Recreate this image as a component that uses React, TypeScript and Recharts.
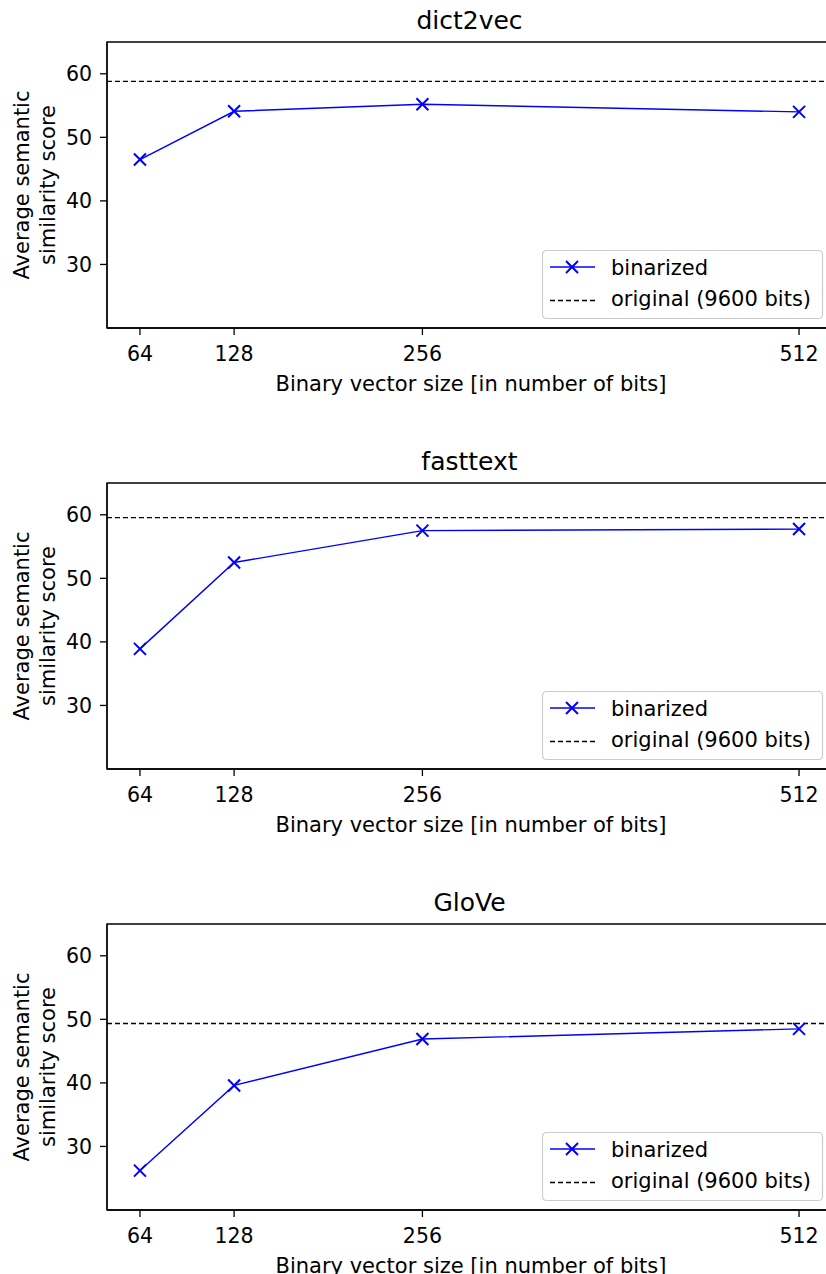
import React from 'react';
import { LineChart, Line, XAxis, YAxis, ReferenceLine, ReferenceArea, Legend } from 'recharts';

// ---- data ----
const bits = [64, 128, 256, 512];
const dict2vecScores = [46.5, 54.1, 55.2, 54.0];
const fasttextScores = [38.9, 52.5, 57.5, 57.75];
const gloveScores = [26.2, 39.6, 46.9, 48.5];
const originalScores = [58.8, 59.55, 49.35];
const panelTitles = ['dict2vec', 'fasttext', 'GloVe'];
const yTicks = [30, 40, 50, 60];
const xDomain = [41.6, 534.4];
const yDomain = [20, 65];
const seriesName = 'binarized';
const originalName = 'original (9600 bits)';
const xLabel = 'Binary vector size [in number of bits]';
const yLabelLines = ['Average semantic', 'similarity score'];

const FONT = '"DejaVu Sans", sans-serif';
const BLUE = '#0000ff';

const renderX = (props: any) => {
  const { cx, cy, index } = props;
  if (cx == null || cy == null) return <g key={`x-${index}`} />;
  const s = 6;
  return (
    <path
      key={`x-${index}`}
      d={`M${cx - s},${cy - s}L${cx + s},${cy + s}M${cx - s},${cy + s}L${cx + s},${cy - s}`}
      stroke={BLUE}
      strokeWidth={2}
      fill="none"
    />
  );
};

const LegendBox = (props: any) => {
  const payload = props.payload || [];
  const first = payload.length ? String(payload[0].value) : seriesName;
  return (
    <svg width={282} height={70} style={{ display: 'block', fontFamily: FONT }}>
      <rect x={0.5} y={0.5} width={280} height={68} rx={4} ry={4} fill="#fff" fillOpacity={0.8} stroke="#cccccc" strokeWidth={1.2} />
      <line x1={8} y1={17} x2={53} y2={17} stroke={BLUE} strokeWidth={1.4} />
      <path d="M24,11L36,23M24,23L36,11" stroke={BLUE} strokeWidth={2} fill="none" />
      <text x={69} y={24.5} fontSize={21} fill="#000">{first}</text>
      <line x1={8} y1={50.5} x2={53} y2={50.5} stroke="#000" strokeWidth={1.4} strokeDasharray="5 3" />
      <text x={69} y={55.5} fontSize={21} fill="#000">{originalName}</text>
    </svg>
  );
};

function Panel({ title, scores, original, top }: { title: string; scores: number[]; original: number; top: number }) {
  const data = bits.map((b, i) => ({ bits: b, score: scores[i] }));
  return (
    <div style={{ position: 'absolute', left: 0, top, width: 834, height: 441 }}>
      <LineChart
        width={834}
        height={441}
        data={data}
        margin={{ top: 42, right: 2, left: 0, bottom: 0 }}
        style={{ fontFamily: FONT }}
      >
        <XAxis
          dataKey="bits"
          type="number"
          domain={xDomain}
          ticks={bits}
          interval={0}
          allowDataOverflow
          height={113}
          tickSize={7}
          tickMargin={11}
          tick={{ fontSize: 20.5, fill: '#000', fontFamily: FONT }}
          axisLine={{ stroke: '#000', strokeWidth: 1.3 }}
          tickLine={{ stroke: '#000', strokeWidth: 1.3 }}
        />
        <YAxis
          type="number"
          domain={yDomain}
          ticks={yTicks}
          interval={0}
          allowDataOverflow
          width={107}
          tickSize={7}
          tickMargin={8}
          tick={{ fontSize: 20.5, fill: '#000', fontFamily: FONT }}
          axisLine={{ stroke: '#000', strokeWidth: 1.3 }}
          tickLine={{ stroke: '#000', strokeWidth: 1.3 }}
        />
        <ReferenceArea
          x1={xDomain[0]}
          x2={xDomain[1]}
          y1={yDomain[0]}
          y2={yDomain[1]}
          fill="none"
          fillOpacity={0}
          stroke="#000"
          strokeWidth={1.3}
          ifOverflow="visible"
        />
        <ReferenceLine y={original} stroke="#000" strokeWidth={1.4} strokeDasharray="5 3" />
        <Line
          dataKey="score"
          name={seriesName}
          stroke={BLUE}
          strokeWidth={1.4}
          dot={renderX}
          activeDot={false}
          isAnimationActive={false}
        />
        <Legend
          layout="vertical"
          align="center"
          verticalAlign="middle"
          content={<LegendBox />}
          wrapperStyle={{ position: 'absolute', left: 542, top: 250, width: 282, height: 70 }}
        />
      </LineChart>
      <svg
        width={834}
        height={441}
        style={{ position: 'absolute', left: 0, top: 0, pointerEvents: 'none', fontFamily: FONT }}
      >
        <text x={469.5} y={28.5} textAnchor="middle" fontSize={25} fill="#000">{title}</text>
        <text x={471} y={391} textAnchor="middle" fontSize={21} fill="#000">{xLabel}</text>
        <text x={28.5} y={185} textAnchor="middle" fontSize={21} fill="#000" transform="rotate(-90, 28.5, 185)">
          {yLabelLines[0]}
        </text>
        <text x={54.5} y={185} textAnchor="middle" fontSize={21} fill="#000" transform="rotate(-90, 54.5, 185)">
          {yLabelLines[1]}
        </text>
      </svg>
    </div>
  );
}

export default function App() {
  const allScores = [dict2vecScores, fasttextScores, gloveScores];
  return (
    <div style={{ position: 'absolute', left: 0, top: 0, width: 826, height: 1274, overflow: 'hidden', background: '#fff' }}>
      {panelTitles.map((t, i) => (
        <Panel key={t} title={t} scores={allScores[i]} original={originalScores[i]} top={i * 441} />
      ))}
    </div>
  );
}
